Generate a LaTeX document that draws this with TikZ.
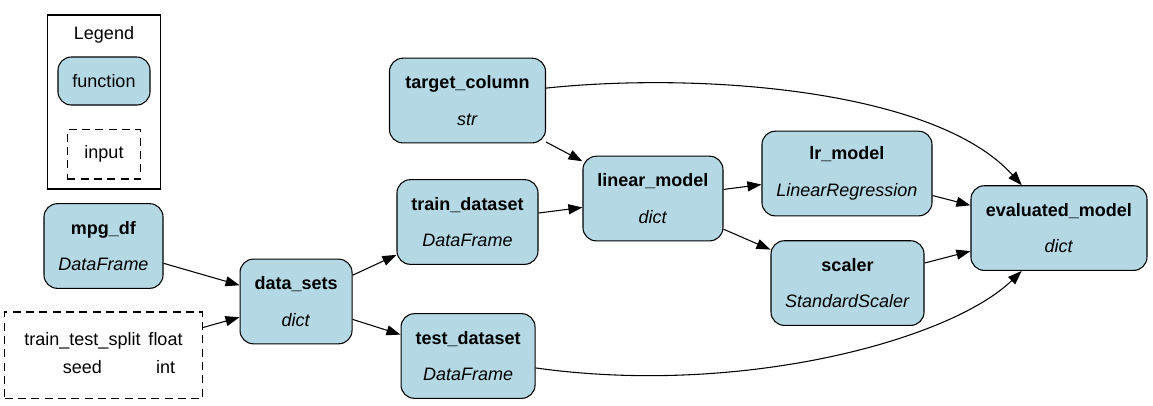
\documentclass[tikz,border=0pt]{standalone}
\usepackage{fontspec}
\setmainfont{Liberation Sans}
\usepackage{tikz}
\usetikzlibrary{arrows.meta, positioning}
\definecolor{fnblue}{HTML}{B4D8E4}

\begin{document}
\begin{tikzpicture} [x = 0.75pt, y = 0.75pt, on grid, font = \fontsize{13.5}{16}\selectfont,
	fn/.style = {draw, line width = 0.8pt, rounded corners = 10pt, fill = fnblue, align = center, minimum height = 63.5pt},
	inp/.style = {draw, line width = 0.8pt, dash pattern = on 6pt off 4pt, align = center}]
			% Page frame
			\useasboundingbox (0,0) rectangle (1153,-405);

			% Legend : the function node is measured first
			\node (legfn) [fn, minimum width = 69pt, minimum height = 36pt] at (104,-81) {function};
			\node (legtitle) [above = 34.5pt of legfn] {Legend};
			\node (legin) [inp, minimum width = 55pt, minimum height = 37pt, below = 55pt of legfn] {input};
			\node (legend) [draw, line width = 0.8pt, minimum width = 85pt, minimum height = 130.5pt,
			below = 15.75pt of legfn] {};

			% Inputs
			\node (mpg) [fn, minimum width = 89.25pt] at (103.5,-246) {\textbf{mpg\_df}\\[11.5pt]\textit{DataFrame}};
			\node (inputs) [inp, minimum width = 148.5pt, minimum height = 65pt, below = 82pt of mpg]
			{\setlength{\tabcolsep}{3pt}\begin{tabular}{@{}cc@{}} train\_test\_split & float\\[5pt] seed & int\end{tabular}};

			% Data nodes
			\node (datasets) [fn, minimum width = 84pt, below right = 41.6pt and 144.4pt of mpg]
			{\textbf{data\_sets}\\[11.5pt]\textit{dict}};
			\node (train) [fn, minimum width = 105.75pt, above right = 59.6pt and 128.6pt of datasets]
			{\textbf{train\_dataset}\\[11.5pt]\textit{DataFrame}};
			\node (test) [fn, minimum width = 100.5pt, below right = 40.9pt and 129pt of datasets]
			{\textbf{test\_dataset}\\[11.5pt]\textit{DataFrame}};
			\node (target) [fn, minimum width = 117pt, above = 91.1pt of train]
			{\textbf{target\_column}\\[11.5pt]\textit{str}};

			% Model nodes
			\node (linear) [fn, minimum width = 105pt, above right = 17.6pt and 139.1pt of train]
			{\textbf{linear\_model}\\[11.5pt]\textit{dict}};
			\node (lr) [fn, minimum width = 127.5pt, above right = 18.75pt and 145.5pt of linear]
			{\textbf{lr\_model}\\[11.5pt]\textit{LinearRegression}};
			\node (scaler) [fn, minimum width = 114.75pt, below right = 63.4pt and 145.9pt of linear]
			{\textbf{scaler}\\[11.5pt]\textit{StandardScaler}};

			% Final node
			\node (evaluated) [fn, minimum width = 132pt, below right = 40.9pt and 159pt of lr]
			{\textbf{evaluated\_model}\\[11.5pt]\textit{dict}};

			% Draw Arrows/Connections
			\path [-{Triangle[length = 10.5pt, width = 7.5pt]}, line width = 0.8pt]
			(mpg) edge (datasets)
			(inputs) edge (datasets)
			(datasets) edge (train)
			(datasets) edge (test)
			(train) edge (linear)
			(target) edge (linear)
			(linear) edge (lr)
			(linear) edge (scaler)
			(lr) edge (evaluated)
			(scaler) edge (evaluated)
			(target.9) edge [out = 6, in = 132, out distance = 116pt, in distance = 97pt] (evaluated.131)
			(test.-10) edge [out = -8, in = -136, out distance = 155pt, in distance = 75pt] (evaluated.-131);
		\end{tikzpicture}
\end{document}
